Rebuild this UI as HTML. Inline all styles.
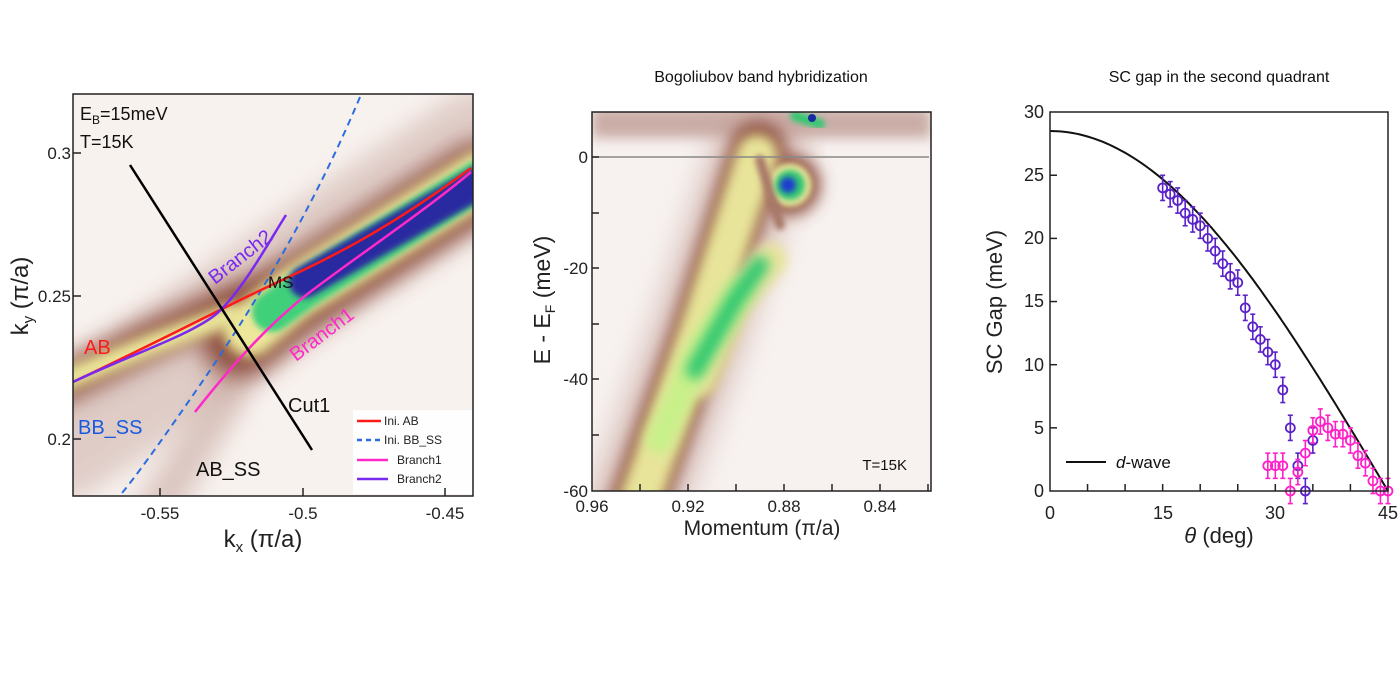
<!DOCTYPE html>
<html><head><meta charset="utf-8"><style>
html,body{margin:0;padding:0;background:#fff;}
svg{display:block;font-family:"Liberation Sans",Arial,sans-serif;}
</style></head><body>
<svg id="s" width="1400" height="700" viewBox="0 0 1400 700" xmlns="http://www.w3.org/2000/svg">
<defs>
<filter id="b12" x="-50%" y="-50%" width="200%" height="200%"><feGaussianBlur stdDeviation="12"/></filter>
<filter id="b8" x="-50%" y="-50%" width="200%" height="200%"><feGaussianBlur stdDeviation="8"/></filter>
<filter id="b6" x="-50%" y="-50%" width="200%" height="200%"><feGaussianBlur stdDeviation="6"/></filter>
<filter id="b3" x="-50%" y="-50%" width="200%" height="200%"><feGaussianBlur stdDeviation="3"/></filter>
<clipPath id="c1"><rect x="73" y="94" width="400" height="402"/></clipPath>
<clipPath id="c2"><rect x="592" y="112" width="339" height="379"/></clipPath>
</defs>

<!-- LEFT PANEL -->
<rect x="73" y="94" width="400" height="402" fill="#f8f2ef"/>
<g clip-path="url(#c1)" fill="none" stroke-linecap="round">
  <path d="M60,440 L150,380 L260,300 L480,150" stroke="#c8a8a0" stroke-width="120" filter="url(#b12)" opacity="0.5"/>
  <path d="M150,520 L200,440 L230,390" stroke="#c8a8a0" stroke-width="40" filter="url(#b12)" opacity="0.6"/>
  <path d="M60,385 L150,340 L230,305 L300,290" stroke="#8a4a3a" stroke-width="36" filter="url(#b12)"/>
  <path d="M240,340 L290,300 L480,180" stroke="#8a4a3a" stroke-width="76" filter="url(#b12)"/>
  <path d="M60,382 L150,345 L230,315" stroke="#ece79a" stroke-width="22" filter="url(#b6)"/>
  <path d="M250,330 L292,295 L480,178" stroke="#ece79a" stroke-width="54" filter="url(#b6)"/>
  <path d="M272,312 L305,288 L480,180" stroke="#3fd07a" stroke-width="40" filter="url(#b3)"/>
  <path d="M305,282 L340,262 L480,182" stroke="#2a2aa0" stroke-width="32" filter="url(#b3)"/>
</g>
<rect x="353" y="410" width="119" height="84" fill="#fff" opacity="0.9"/>
<g fill="none" stroke-width="2">
  <path d="M360,97 Q300,240 200,385 T113,496" stroke="#2a6de0" stroke-dasharray="7,5" clip-path="url(#c1)"/>
  <path d="M73,382 C120,360 160,340 230,305 S360,250 471,168" stroke="#ff1a1a" stroke-width="2.5"/>
  <path d="M73,382 C130,355 190,335 215,315 S270,240 286,215" stroke="#7a2af0" stroke-width="2.5"/>
  <path d="M195,412 C240,355 270,325 300,300 S420,215 471,172" stroke="#ff28c8" stroke-width="2.5"/>
  <line x1="130" y1="165" x2="312" y2="450" stroke="#000" stroke-width="2.5"/>
</g>
<rect x="73" y="94" width="400" height="402" fill="none" stroke="#222" stroke-width="1.5"/>
<g stroke="#222" stroke-width="1.5">
  <line x1="160" y1="496" x2="160" y2="488"/><line x1="303" y1="496" x2="303" y2="488"/><line x1="445" y1="496" x2="445" y2="488"/>
  <line x1="73" y1="153" x2="81" y2="153"/><line x1="73" y1="296" x2="81" y2="296"/><line x1="73" y1="439" x2="81" y2="439"/>
</g>
<g font-size="17" fill="#222" text-anchor="middle">
  <text x="160" y="519">-0.55</text><text x="303" y="519">-0.5</text><text x="445" y="519">-0.45</text>
</g>
<g font-size="17" fill="#222" text-anchor="end">
  <text x="71" y="159">0.3</text><text x="71" y="302">0.25</text><text x="71" y="445">0.2</text>
</g>
<text x="263" y="547" font-size="24" text-anchor="middle" fill="#222">k<tspan font-size="15" dy="5">x</tspan><tspan dy="-5"> (π/a)</tspan></text>
<text transform="translate(28,296) rotate(-90)" font-size="24" text-anchor="middle" fill="#222">k<tspan font-size="15" dy="5">y</tspan><tspan dy="-5"> (π/a)</tspan></text>
<text x="80" y="120" font-size="18" fill="#111">E<tspan font-size="12" dy="4">B</tspan><tspan dy="-4">=15meV</tspan></text>
<text x="80" y="148" font-size="18" fill="#111">T=15K</text>
<text x="84" y="354" font-size="20" fill="#ff1a1a">AB</text>
<text x="78" y="434" font-size="20" fill="#1a5ae0">BB_SS</text>
<text x="196" y="476" font-size="20" fill="#111">AB_SS</text>
<text x="288" y="412" font-size="20" fill="#111">Cut1</text>
<text x="268" y="288" font-size="17" fill="#111">MS</text>
<text transform="translate(215,285) rotate(-38)" font-size="20" fill="#7a2af0">Branch2</text>
<text transform="translate(296,362) rotate(-37)" font-size="20" fill="#ff28c8">Branch1</text>
<g font-size="12" fill="#222" stroke-width="2.5">
  <line x1="357" y1="421" x2="381" y2="421" stroke="#ff1a1a"/><text x="384" y="425">Ini. AB</text>
  <line x1="357" y1="440" x2="381" y2="440" stroke="#2a6de0" stroke-dasharray="5,4"/><text x="384" y="444">Ini. BB_SS</text>
  <line x1="357" y1="460" x2="388" y2="460" stroke="#ff28c8"/><text x="397" y="464">Branch1</text>
  <line x1="357" y1="479" x2="388" y2="479" stroke="#7a2af0"/><text x="397" y="483">Branch2</text>
</g>

<!-- MIDDLE PANEL -->
<text x="761" y="82" font-size="16" text-anchor="middle" fill="#111">Bogoliubov band hybridization</text>
<rect x="592" y="112" width="339" height="379" fill="#f7f1ef"/>
<g clip-path="url(#c2)" fill="none" stroke-linecap="round">
  <rect x="592" y="108" width="339" height="30" fill="#b89088" filter="url(#b6)" opacity="0.7"/>
  <path d="M630,520 L700,330 L760,150" stroke="#c9a8a0" stroke-width="100" filter="url(#b12)" opacity="0.5"/>
  <path d="M635,510 L700,330 L758,150" stroke="#8a4a3a" stroke-width="56" filter="url(#b8)"/>
  <circle cx="790" cy="185" r="30" fill="#8a4a3a" filter="url(#b8)" stroke="none"/>
  <path d="M638,505 L700,330 L757,155" stroke="#e8e49a" stroke-width="42" filter="url(#b6)"/>
  <path d="M700,380 L735,300 L770,260" stroke="#e8e49a" stroke-width="34" filter="url(#b6)"/>
  <circle cx="790" cy="185" r="22" fill="#e8e49a" stroke="none" filter="url(#b3)"/>
  <path d="M760,160 L780,225" stroke="#a87868" stroke-width="10" filter="url(#b3)"/>
  <path d="M660,440 L700,350 L740,290" stroke="#c8f08a" stroke-width="28" filter="url(#b6)"/>
  <path d="M695,370 L735,300 L760,265" stroke="#30c870" stroke-width="18" filter="url(#b6)"/>
  <circle cx="790" cy="185" r="15" fill="#30c870" stroke="none" filter="url(#b3)"/>
  <circle cx="788" cy="185" r="8" fill="#1a3ad0" stroke="none" filter="url(#b3)"/>
  <path d="M795,116 L820,124" stroke="#30c870" stroke-width="10" filter="url(#b3)"/>
  <circle cx="812" cy="118" r="4" fill="#1a2aa0" stroke="none"/>
</g>
<line x1="592" y1="157" x2="929" y2="157" stroke="#888" stroke-width="1.5"/>
<rect x="592" y="112" width="339" height="379" fill="none" stroke="#222" stroke-width="1.5"/>
<g stroke="#222" stroke-width="1.5">
  <line x1="640" y1="491" x2="640" y2="484"/><line x1="688" y1="491" x2="688" y2="484"/><line x1="736" y1="491" x2="736" y2="484"/><line x1="784" y1="491" x2="784" y2="484"/><line x1="832" y1="491" x2="832" y2="484"/><line x1="880" y1="491" x2="880" y2="484"/><line x1="928" y1="491" x2="928" y2="484"/>
  <line x1="592" y1="157" x2="599" y2="157"/><line x1="592" y1="213" x2="599" y2="213"/><line x1="592" y1="268" x2="599" y2="268"/><line x1="592" y1="324" x2="599" y2="324"/><line x1="592" y1="379" x2="599" y2="379"/><line x1="592" y1="435" x2="599" y2="435"/>
</g>
<g font-size="17" fill="#222" text-anchor="middle">
  <text x="592" y="512">0.96</text><text x="688" y="512">0.92</text><text x="784" y="512">0.88</text><text x="880" y="512">0.84</text>
</g>
<g font-size="17" fill="#222" text-anchor="end">
  <text x="588" y="163">0</text><text x="588" y="274">-20</text><text x="588" y="385">-40</text><text x="588" y="497">-60</text>
</g>
<text x="762" y="535" font-size="21" text-anchor="middle" fill="#222">Momentum (π/a)</text>
<text transform="translate(550,300) rotate(-90)" font-size="23" text-anchor="middle" fill="#222">E - E<tspan font-size="14" dy="5">F</tspan><tspan dy="-5"> (meV)</tspan></text>
<text x="907" y="470" font-size="15" text-anchor="end" fill="#111">T=15K</text>

<!-- RIGHT PANEL -->
<text x="1219" y="82" font-size="16" text-anchor="middle" fill="#111">SC gap in the second quadrant</text>
<g id="rp"></g>
<rect x="1050" y="112" width="338" height="379" fill="none" stroke="#222" stroke-width="1.5"/>
<g font-size="18" fill="#222" text-anchor="end">
  <text x="1044" y="118">30</text><text x="1044" y="181">25</text><text x="1044" y="244">20</text><text x="1044" y="307">15</text><text x="1044" y="371">10</text><text x="1044" y="434">5</text><text x="1044" y="497">0</text>
</g>
<g font-size="18" fill="#222" text-anchor="middle">
  <text x="1050" y="519">0</text><text x="1163" y="519">15</text><text x="1275" y="519">30</text><text x="1388" y="519">45</text>
</g>
<text x="1219" y="543" font-size="22" text-anchor="middle" fill="#222"><tspan font-style="italic">θ</tspan> (deg)</text>
<text transform="translate(1002,302) rotate(-90)" font-size="22" text-anchor="middle" fill="#222">SC Gap (meV)</text>
<line x1="1066" y1="462" x2="1106" y2="462" stroke="#111" stroke-width="2"/>
<text x="1116" y="468" font-size="17" fill="#111"><tspan font-style="italic">d</tspan>-wave</text>
</svg>
<script>
(function(){
var g=document.getElementById('rp'),NS='http://www.w3.org/2000/svg';
function X(t){return 1050+t*7.51}function Y(v){return 491-v*12.63}
function el(n,a){var e=document.createElementNS(NS,n);for(var k in a)e.setAttribute(k,a[k]);g.appendChild(e);return e}
var s='';
for(var t=0;t<=45;t+=0.5){s+=(t?'L':'M')+X(t).toFixed(1)+','+Y(28.5*Math.cos(2*t*Math.PI/180)).toFixed(1)}
el('path',{d:s,fill:'none',stroke:'#111','stroke-width':2});
var ts=[5,10,15,20,25,30,35,40];ts.forEach(function(t){el('line',{x1:X(t),y1:491,x2:X(t),y2:484,stroke:'#222','stroke-width':1.5})});
[5,10,15,20,25].forEach(function(v){el('line',{x1:1050,y1:Y(v),x2:1057,y2:Y(v),stroke:'#222','stroke-width':1.5})});
var P=[[15,24],[16,23.5],[17,23],[18,22],[19,21.5],[20,21],[21,20],[22,19],[23,18],[24,17],[25,16.5],[26,14.5],[27,13],[28,12],[29,11],[30,10],[31,8],[32,5],[33,2],[34,0],[35,4]];
var M=[[29,2],[30,2],[31,2],[32,0],[33,1.5],[34,3],[35,4.8],[36,5.5],[37,5],[38,4.5],[39,4.5],[40,4],[41,2.8],[42,2.2],[43,0.8],[44,0],[45,0]];
function draw(arr,c){arr.forEach(function(p){var x=X(p[0]),y=Y(p[1]);
el('line',{x1:x,y1:y-12.6,x2:x,y2:y+12.6,stroke:c,'stroke-width':1.6});
el('line',{x1:x-2.5,y1:y-12.6,x2:x+2.5,y2:y-12.6,stroke:c,'stroke-width':1.6});
el('line',{x1:x-2.5,y1:y+12.6,x2:x+2.5,y2:y+12.6,stroke:c,'stroke-width':1.6});
el('circle',{cx:x,cy:y,r:4.5,fill:'none',stroke:c,'stroke-width':1.8});});}
draw(P,'#5a22c8');draw(M,'#ff20c8');
})();
</script>
</body></html>
